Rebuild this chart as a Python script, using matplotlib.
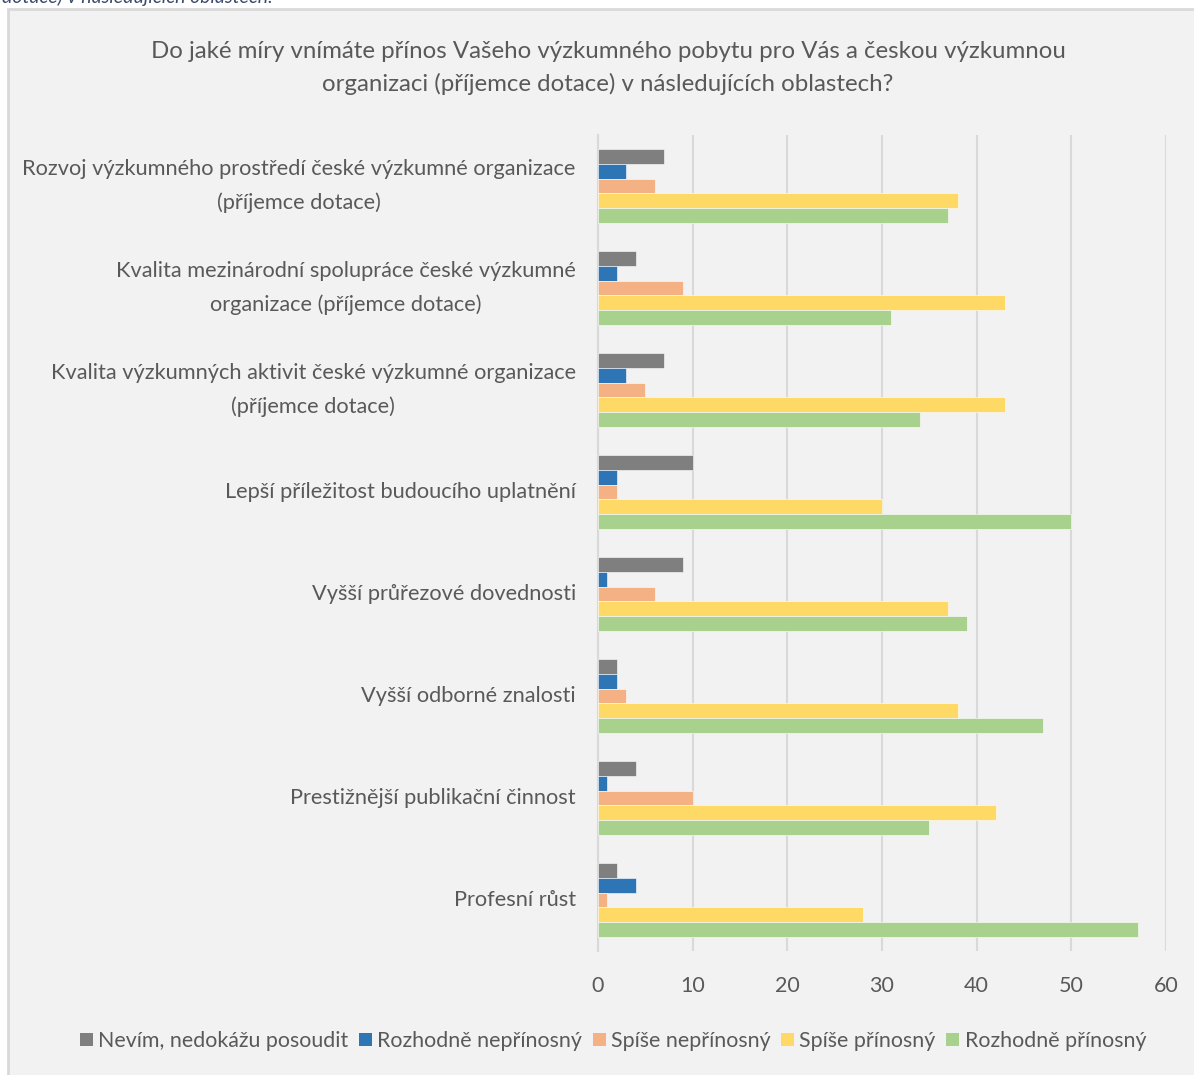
import matplotlib.pyplot as plt
from matplotlib.patches import Rectangle, Patch
import numpy as np

plt.rcParams['font.family'] = ['Lato', 'DejaVu Sans']

categories = [
    'Rozvoj výzkumného prostředí české výzkumné organizace\n(příjemce dotace)',
    'Kvalita mezinárodní spolupráce české výzkumné\norganizace (příjemce dotace)',
    'Kvalita výzkumných aktivit české výzkumné organizace\n(příjemce dotace)',
    'Lepší příležitost budoucího uplatnění',
    'Vyšší průřezové dovednosti',
    'Vyšší odborné znalosti',
    'Prestižnější publikační činnost',
    'Profesní růst',
]
series_names = ['Nevím, nedokážu posoudit', 'Rozhodně nepřínosný', 'Spíše nepřínosný',
                'Spíše přínosný', 'Rozhodně přínosný']
nevim = [7, 4, 7, 10, 9, 2, 4, 2]
rozhodne_ne = [3, 2, 3, 2, 1, 2, 1, 4]
spise_ne = [6, 9, 5, 2, 6, 3, 10, 1]
spise_ano = [38, 43, 43, 30, 37, 38, 42, 28]
rozhodne_ano = [37, 31, 34, 50, 39, 47, 35, 57]
colors = ['#7F7F7F', '#2E75B6', '#F4B183', '#FFD966', '#A9D18E']
xticks = [0, 10, 20, 30, 40, 50, 60]

W, H = 1194, 1075
fig = plt.figure(figsize=(W / 100, H / 100), dpi=100)
fig.patch.set_facecolor('white')

# chart box (behind everything)
fig.patches.append(Rectangle((8 / W, -0.01), 1.02, 1 - 9 / H + 0.01, transform=fig.transFigure,
                             facecolor='#F2F2F2', edgecolor='#D9D9D9', linewidth=2, zorder=-10))

# cut-off caption above the chart
fig.text(2 / W, 1 - 6 / H, 'dotace) v následujících oblastech.', fontsize=14, style='italic',
         color='#3B4A6B', ha='left', va='bottom')

ax = fig.add_axes([598 / W, 1 - 951 / H, 568 / W, 816 / H])
ax.set_facecolor('none')

data = [nevim, rozhodne_ne, spise_ne, spise_ano, rozhodne_ano]
y = np.arange(len(categories))
bh = 0.146
for i, (vals, c) in enumerate(zip(data, colors)):
    ax.barh(y + (i - 2) * bh, vals, height=bh, color=c, edgecolor='white', linewidth=0.4, zorder=3)

ax.set_ylim(len(categories) - 0.5, -0.5)
ax.set_xlim(0, 60)
ax.set_xticks(xticks)
ax.set_xticklabels([str(t) for t in xticks], fontsize=15.5, color='#595959')
ax.set_yticks(y)
ax.set_yticklabels(categories, fontsize=15.7, color='#595959', multialignment='center',
                   linespacing=1.75, va='center')
ax.tick_params(axis='y', length=0, pad=16)
ax.tick_params(axis='x', length=0, pad=18)
ax.grid(axis='x', color='#D9D9D9', linewidth=1.5, zorder=0)
for s in ['top', 'right', 'bottom']:
    ax.spines[s].set_visible(False)
ax.spines['left'].set_color('#D9D9D9')
ax.spines['left'].set_linewidth(1.5)

fig.text(608 / W, 1 - 68 / H,
         'Do jaké míry vnímáte přínos Vašeho výzkumného pobytu pro Vás a českou výzkumnou\n'
         'organizaci (příjemce dotace) v následujících oblastech?',
         fontsize=17.3, color='#595959', ha='center', va='center', linespacing=1.6)

handles = [Patch(facecolor=c, edgecolor='none') for c in colors]
fig.legend(handles, series_names, loc='center', bbox_to_anchor=(613 / W, 1 - 1041 / H), ncol=5,
           frameon=False, fontsize=15.4, labelcolor='#595959', handlelength=0.6, handleheight=0.6,
           handletextpad=0.25, columnspacing=0.5)

fig.savefig('out.png', dpi=100, facecolor=fig.get_facecolor())
